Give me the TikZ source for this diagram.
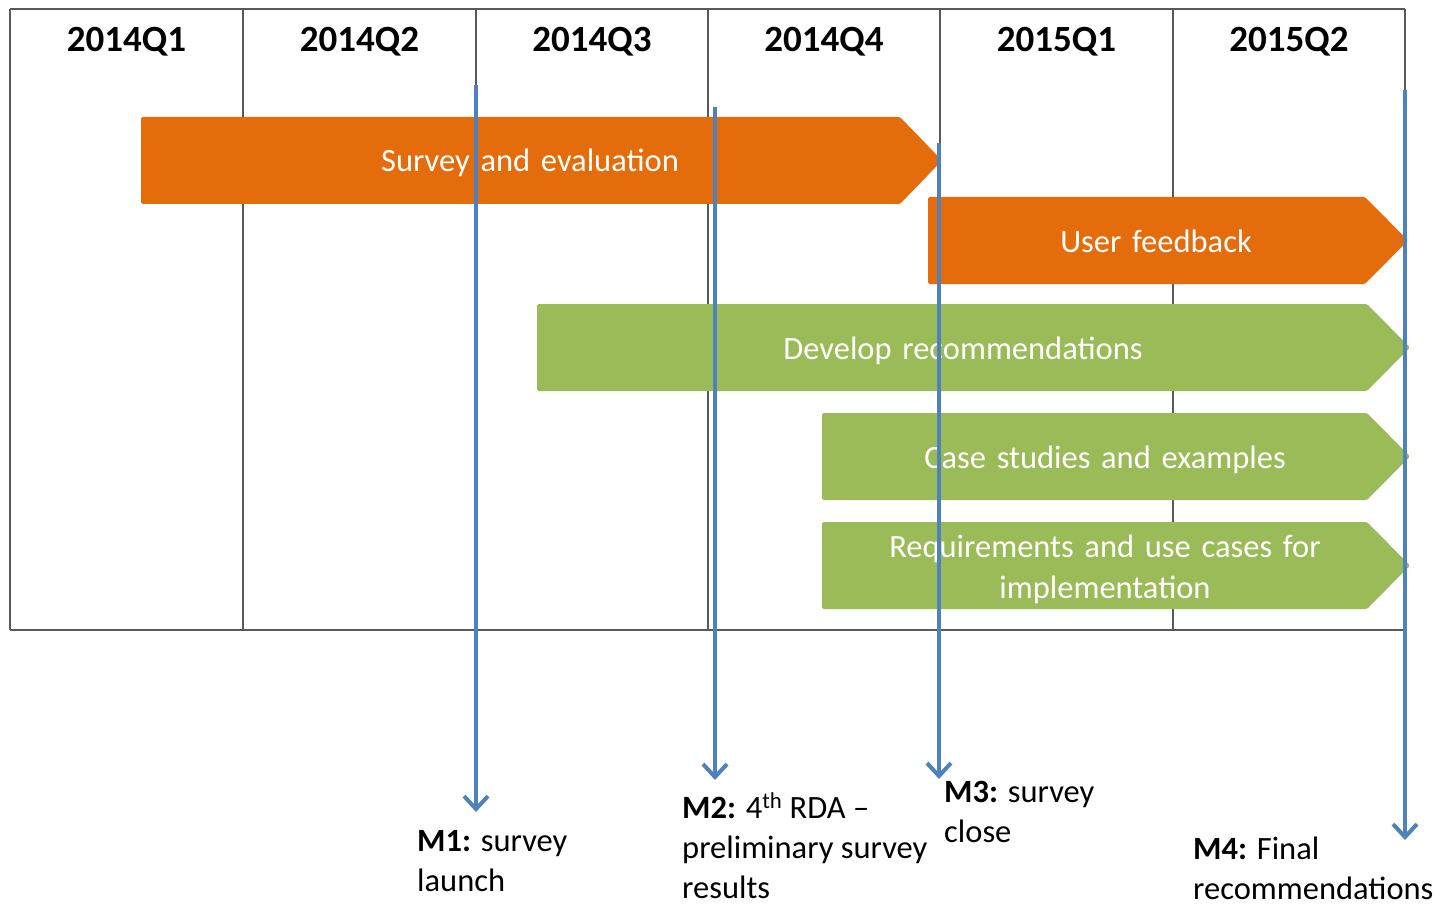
\documentclass[tikz,border=0pt]{standalone}
\usepackage{fontspec}
\setmainfont{Carlito}
\usetikzlibrary{arrows.meta}
\definecolor{orng}{HTML}{E46C0A}
\definecolor{grn}{HTML}{9BBB59}
\definecolor{blu}{HTML}{4F81BD}
\definecolor{gridc}{HTML}{595959}
\newcommand\barfontsetup{\fontsize{32.5}{41}\selectfont\spaceskip=0.33em plus 0.1em\relax}
\begin{document}
\begin{tikzpicture}[x=1pt,y=-1pt,
  gridline/.style={draw=gridc,line width=2pt},
  hdr/.style={font=\fontsize{37}{40}\selectfont\bfseries,text=black,anchor=base,inner sep=0pt},
  bartext/.style={font=\barfontsetup,text=white,align=center,inner sep=0pt},
  ms/.style={draw=blu,line width=4pt,-{Straight Barb[length=13pt,width=24pt,line width=4pt]}},
  mslabel/.style={font=\fontsize{32.5}{40}\selectfont,align=left,anchor=base west,inner sep=0pt,text=black}]
\useasboundingbox (0,0) rectangle (1443,904);
% grid
\draw[gridline] (10,9) -- (1405,9);
\draw[gridline] (10,630) -- (1405,630);
\foreach \x in {10,243,476,708,940,1173,1405}{
  \draw[gridline] (\x,9) -- (\x,630);
}
% headers
\node[hdr] (h1) at (126.5,52) {2014Q1};
\node[hdr] (h2) at (359.5,52) {2014Q2};
\node[hdr] (h3) at (592,52) {2014Q3};
\node[hdr] (h4) at (824,52) {2014Q4};
\node[hdr] (h5) at (1056.5,52) {2015Q1};
\node[hdr] (h6) at (1289,52) {2015Q2};
% bars
\fill[orng,rounded corners=1.5pt] (141,117) -- (900,117) -- (942,160.5) -- (900,204) -- (141,204) -- cycle;
\node[bartext,anchor=base] (b1) at (530,172) {Survey and evaluation};
\fill[orng,rounded corners=1.5pt] (928,197) -- (1365,197) -- (1408,240.5) -- (1365,284) -- (928,284) -- cycle;
\node[bartext,anchor=base] (b2) at (1156,252) {User feedback};
\fill[grn,rounded corners=1.5pt] (537,304) -- (1367,304) -- (1410,347.5) -- (1367,391) -- (537,391) -- cycle;
\node[bartext,anchor=base] (b3) at (963,359) {Develop recommendations};
\fill[grn,rounded corners=1.5pt] (822,413) -- (1367,413) -- (1410,456.5) -- (1367,500) -- (822,500) -- cycle;
\node[bartext,anchor=base] (b4) at (1105,468) {Case studies and examples};
\fill[grn,rounded corners=1.5pt] (822,522) -- (1367,522) -- (1410,565.5) -- (1367,609) -- (822,609) -- cycle;
\node[bartext,anchor=base] (b5) at (1105,598) {Requirements and use cases for\\implementation};
% milestones
\coordinate (m1s) at (476,85);   \coordinate (m1e) at (476,812);
\coordinate (m2s) at (715,107);  \coordinate (m2e) at (715,780);
\coordinate (m3s) at (939,143);  \coordinate (m3e) at (939,779);
\coordinate (m4s) at (1405,90);  \coordinate (m4e) at (1405,840);
\draw[ms] (m1s) -- (m1e);
\draw[ms] (m2s) -- (m2e);
\draw[ms] (m3s) -- (m3e);
\draw[ms] (m4s) -- (m4e);
% labels
\node[mslabel] (l1) at (417,891) {\textbf{M1:} survey\\launch};
\node[mslabel] (l2) at (682,898) {\textbf{M2:} 4\textsuperscript{th} RDA –\\preliminary survey\\results};
\node[mslabel] (l3) at (944,842) {\textbf{M3:} survey\\close};
\node[mslabel] (l4) at (1193,899) {\textbf{M4:} Final\\recommendations};
\end{tikzpicture}
\end{document}
